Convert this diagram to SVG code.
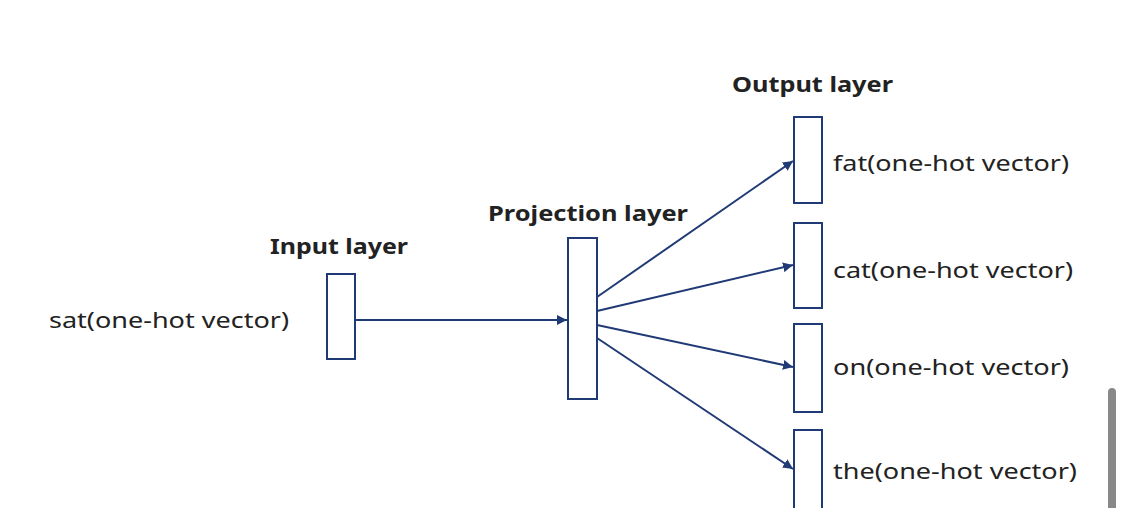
<svg xmlns="http://www.w3.org/2000/svg" width="1125" height="508" viewBox="0 0 1125 508">
<style>
.box{fill:#fff;stroke:#203a75;stroke-width:2}
.con{stroke:#203a75;stroke-width:2;fill:none;marker-end:url(#arr)}
.lbl{font-family:"Noto Sans","Open Sans",sans-serif;font-size:22px;fill:#222}
.ttl{font-family:"Noto Sans","Open Sans",sans-serif;font-size:22px;font-weight:bold;fill:#222}
</style>
<defs>
<marker id="arr" viewBox="0 0 10 10" refX="10" refY="5" markerWidth="5" markerHeight="5" orient="auto" markerUnits="strokeWidth">
<path d="M0,0 L10,5 L0,10 z" fill="#203a75"/>
</marker>
</defs>
<rect width="1125" height="508" fill="#fff"/>
<g id="connectors">
<line class="con" x1="356" y1="320" x2="567" y2="320"/>
<line class="con" x1="597" y1="297" x2="793" y2="161"/>
<line class="con" x1="597" y1="311" x2="793" y2="265"/>
<line class="con" x1="597" y1="325" x2="793" y2="367"/>
<line class="con" x1="597" y1="338" x2="793" y2="469"/>
</g>
<g id="input">
<text class="ttl" x="270" y="254" textLength="138" lengthAdjust="spacingAndGlyphs">Input layer</text>
<rect class="box" x="327" y="274" width="28" height="85"/>
<text class="lbl" x="49" y="328" textLength="240" lengthAdjust="spacingAndGlyphs">sat(one-hot vector)</text>
</g>
<g id="projection">
<text class="ttl" x="488" y="221" textLength="200" lengthAdjust="spacingAndGlyphs">Projection layer</text>
<rect class="box" x="568" y="238" width="29" height="161"/>
</g>
<g id="output-title">
<text class="ttl" x="732" y="92" textLength="161" lengthAdjust="spacingAndGlyphs">Output layer</text>
</g>
<g id="out-fat">
<rect class="box" x="794" y="117" width="28" height="86"/>
<text class="lbl" x="833" y="171" textLength="236" lengthAdjust="spacingAndGlyphs">fat(one-hot vector)</text>
</g>
<g id="out-cat">
<rect class="box" x="794" y="223" width="28" height="85"/>
<text class="lbl" x="833" y="278" textLength="240" lengthAdjust="spacingAndGlyphs">cat(one-hot vector)</text>
</g>
<g id="out-on">
<rect class="box" x="794" y="324" width="28" height="88"/>
<text class="lbl" x="833" y="375" textLength="236" lengthAdjust="spacingAndGlyphs">on(one-hot vector)</text>
</g>
<g id="out-the">
<rect class="box" x="794" y="430" width="28" height="90"/>
<text class="lbl" x="833" y="479" textLength="244" lengthAdjust="spacingAndGlyphs">the(one-hot vector)</text>
</g>
<rect x="1108" y="388" width="8" height="130" rx="4" fill="#888"/>
</svg>
